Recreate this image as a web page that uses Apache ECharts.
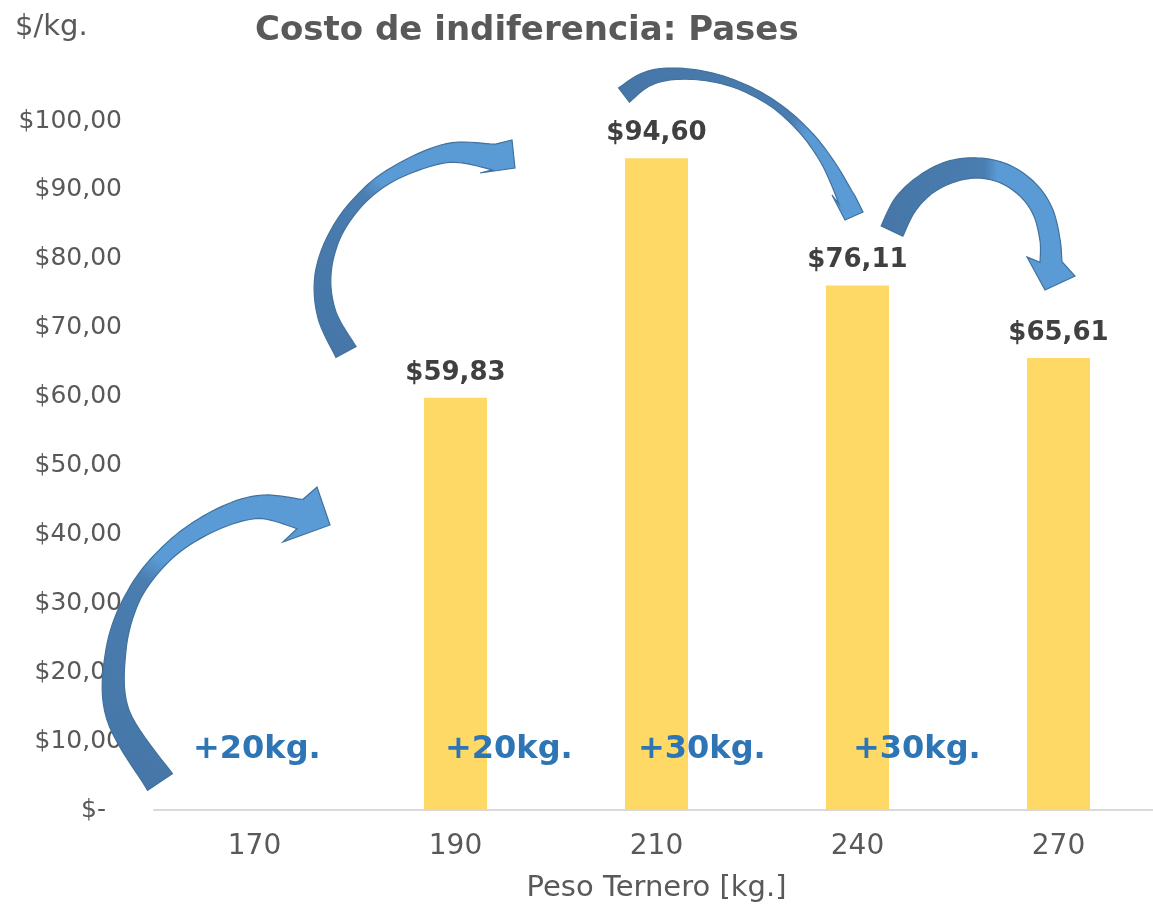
<!DOCTYPE html>
<html>
<head>
<meta charset="utf-8">
<script src="https://cdn.jsdelivr.net/npm/echarts@6/dist/echarts.min.js"></script>
<style>
  html, body { margin: 0; padding: 0; background: #fff; }
  #chart { width: 1153px; height: 905px; }
</style>
</head>
<body>
<div id="chart"></div>
<script>
// datos del grafico
var categories = ['170', '190', '210', '240', '270'];
var costValues = [null, 59.83, 94.60, 76.11, 65.61];
var stepLabels = ['+20kg.', '+20kg.', '+30kg.', '+30kg.'];

var FONT = 'DejaVu Sans';

function money(v) {
  return '$' + v.toFixed(2).replace('.', ',');
}

// flechas decorativas (pixeles de pantalla)
var arrows = [
  {
    pts: [[160, 782], [118, 715], [116, 650], [134, 595], [168, 552], [212, 522], [258, 507], [300, 514]],
    w: [30, 24, 20, 15, 15, 19, 23, 30],
    head: [[317, 487], [330, 525], [283, 542]],
    grad: [160, 782, 330, 500], split: 0.5
  },
  {
    pts: [[346, 352], [327, 315], [323, 275], [335, 235], [360, 200], [395, 173], [448, 153], [494, 157]],
    w: [23, 19, 16, 12, 11, 13, 19, 26],
    head: [[512, 140], [515, 168], [480, 173]],
    grad: [346, 352, 515, 150], split: 0.5
  },
  {
    pts: [[624, 95], [645, 80], [670, 74], [705, 76], [740, 86], [775, 105], [805, 132], [828, 163], [847, 200]],
    w: [18, 15, 12, 9, 7, 7, 9, 12, 18],
    head: [[832, 195], [845, 220], [863, 212]],
    grad: [624, 95, 850, 215], split: 0.62
  },
  {
    pts: [[892, 231], [905, 205], [925, 185], [950, 172], [978, 168], [1005, 174], [1028, 190], [1043, 212], [1050, 240], [1051, 262]],
    w: [24, 24, 22, 22, 20, 20, 20, 20, 20, 22],
    head: [[1027, 257], [1045, 290], [1075, 276]],
    grad: [892, 200, 1060, 200], split: 0.55
  }
];

function arrowPolygon(a) {
  var pts = a.pts, seg = 10, line = [], ws = [];
  for (var i = 0; i < pts.length - 1; i++) {
    var p0 = pts[Math.max(i - 1, 0)], p1 = pts[i], p2 = pts[i + 1], p3 = pts[Math.min(i + 2, pts.length - 1)];
    for (var s = 0; s < seg; s++) {
      var t = s / seg, t2 = t * t, t3 = t2 * t;
      var xy = [0, 1].map(function (k) {
        return 0.5 * (2 * p1[k] + (-p0[k] + p2[k]) * t + (2 * p0[k] - 5 * p1[k] + 4 * p2[k] - p3[k]) * t2 + (-p0[k] + 3 * p1[k] - 3 * p2[k] + p3[k]) * t3);
      });
      line.push(xy);
      ws.push(a.w[i] + (a.w[i + 1] - a.w[i]) * t);
    }
  }
  line.push(pts[pts.length - 1]);
  ws.push(a.w[a.w.length - 1]);
  var left = [], right = [], n;
  for (var j = 0; j < line.length; j++) {
    var pa = line[Math.max(j - 1, 0)], pb = line[Math.min(j + 1, line.length - 1)];
    var dx = pb[0] - pa[0], dy = pb[1] - pa[1], len = Math.sqrt(dx * dx + dy * dy) || 1;
    n = [-dy / len, dx / len];
    var h = ws[j] / 2;
    left.push([line[j][0] + n[0] * h, line[j][1] + n[1] * h]);
    right.push([line[j][0] - n[0] * h, line[j][1] - n[1] * h]);
  }
  var end = line[line.length - 1];
  var c1 = a.head[0], tip = a.head[1], c2 = a.head[2];
  var d1 = (c1[0] - end[0]) * n[0] + (c1[1] - end[1]) * n[1];
  var cl = d1 > 0 ? c1 : c2, cr = d1 > 0 ? c2 : c1;
  return left.concat([cl, tip, cr]).concat(right.reverse());
}

var graphics = arrows.map(function (a) {
  var g = a.grad;
  return {
    type: 'polygon',
    z: 100,
    shape: { points: arrowPolygon(a) },
    style: {
      fill: {
        type: 'linear', x: g[0], y: g[1], x2: g[2], y2: g[3], global: true,
        colorStops: [
          { offset: 0, color: '#4677A8' },
          { offset: a.split, color: '#4A7DB0' },
          { offset: a.split + 0.08, color: '#5B9BD5' },
          { offset: 1, color: '#5B9BD5' }
        ]
      },
      stroke: '#41719C',
      lineWidth: 1.2
    }
  };
});

var stepPos = [[193, 734], [445, 734], [638, 734], [853, 734]];
stepLabels.forEach(function (txt, i) {
  graphics.push({
    type: 'text',
    z: 101,
    left: stepPos[i][0],
    top: stepPos[i][1],
    style: {
      text: txt,
      fill: '#2E75B6',
      font: 'bold 32px "' + FONT + '"'
    }
  });
});

var chart = echarts.init(document.getElementById('chart'));
var option = {
  backgroundColor: '#ffffff',
  animation: false,
  textStyle: { fontFamily: FONT },
  title: [
    {
      text: 'Costo de indiferencia: Pases',
      left: 255,
      top: 14,
      padding: 0,
      textStyle: { fontFamily: FONT, fontSize: 34, fontWeight: 'bold', color: '#595959' }
    },
    {
      text: '$/kg.',
      left: 15,
      top: 13,
      padding: 0,
      textStyle: { fontFamily: FONT, fontSize: 29, fontWeight: 'normal', color: '#595959' }
    }
  ],
  grid: { left: 154, width: 1005, top: 121, bottom: 95, containLabel: false, outerBoundsMode: 'none' },
  xAxis: {
    type: 'category',
    data: categories,
    axisLine: { lineStyle: { color: '#D9D9D9', width: 2 } },
    axisTick: { show: false },
    axisLabel: { color: '#595959', fontSize: 28, margin: 23, fontFamily: FONT },
    name: 'Peso Ternero [kg.]',
    nameLocation: 'middle',
    nameGap: 64,
    nameTextStyle: { color: '#595959', fontSize: 29, fontFamily: FONT }
  },
  yAxis: {
    type: 'value',
    min: 0,
    max: 100,
    interval: 10,
    axisLine: { show: false },
    axisTick: { show: false },
    splitLine: { show: false },
    axisLabel: {
      color: '#595959',
      fontSize: 25,
      margin: 32,
      fontFamily: FONT,
      formatter: function (v) {
        return v === 0 ? '{z|$-}' : money(v);
      },
      rich: { z: { color: '#595959', fontSize: 25, fontFamily: FONT, padding: [0, 16, 0, 0] } }
    }
  },
  series: [
    {
      type: 'bar',
      data: costValues,
      barWidth: 63,
      itemStyle: { color: '#FFD966' },
      label: {
        show: true,
        position: 'top',
        distance: 12,
        color: '#404040',
        fontSize: 26,
        fontWeight: 'bold',
        fontFamily: FONT,
        formatter: function (p) { return money(p.value); }
      }
    }
  ],
  graphic: graphics
};
chart.setOption(option);
</script>
</body>
</html>
